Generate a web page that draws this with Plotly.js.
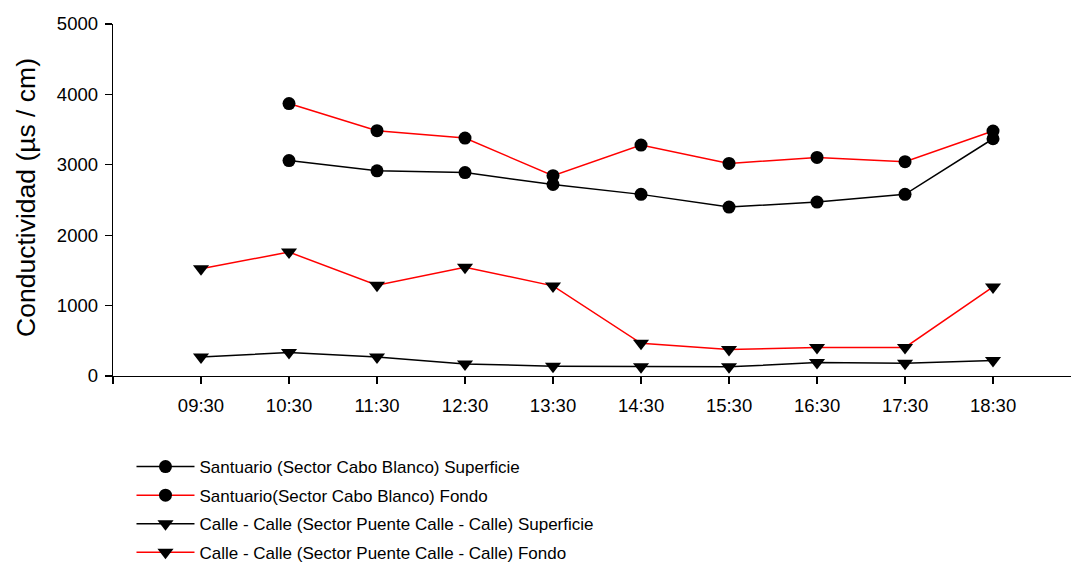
<!DOCTYPE html>
<html>
<head>
<meta charset="utf-8">
<script src="https://cdn.plot.ly/plotly-3.0.1.min.js"></script>
<style>html,body{margin:0;padding:0;background:#fff;}#chart{width:1071px;height:562px;}</style>
</head>
<body>
<div id="chart"></div>
<script>
var categories = ["09:30","10:30","11:30","12:30","13:30","14:30","15:30","16:30","17:30","18:30"];
var santuarioSuperficie = [null, 3060, 2915, 2890, 2720, 2580, 2400, 2470, 2580, 3370];
var santuarioFondo = [null, 3870, 3485, 3380, 2845, 3280, 3020, 3105, 3045, 3480];
var calleSuperficie = [270, 335, 270, 170, 140, 130, 130, 190, 180, 220];
var calleFondo = [1525, 1760, 1290, 1545, 1280, 465, 375, 405, 405, 1265];
var seriesNames = [
  "Santuario (Sector Cabo Blanco) Superficie",
  "Santuario(Sector Cabo Blanco) Fondo",
  "Calle - Calle (Sector Puente Calle - Calle) Superficie",
  "Calle - Calle (Sector Puente Calle - Calle) Fondo"
];
var yTitle = "Conductividad (µs / cm)";
var yTickValues = [0, 1000, 2000, 3000, 4000, 5000];

var xIdx = categories.map(function(c, i){ return i; });
var tickVals = [-1].concat(xIdx);
var tickText = [""].concat(categories);

function tr(name, y, color, symbol, size, grp){
  return {
    x: xIdx, y: y, name: name, type: "scatter", mode: "lines+markers",
    legendgroup: grp,
    line: {color: color, width: 1.5},
    marker: {color: "black", symbol: symbol, size: size},
    connectgaps: false, cliponaxis: false
  };
}
var data = [
  tr(seriesNames[0], santuarioSuperficie, "black", "circle", 13, "a"),
  tr(seriesNames[1], santuarioFondo, "red", "circle", 13, "b"),
  tr(seriesNames[2], calleSuperficie, "black", "triangle-down", 14, "c"),
  tr(seriesNames[3], calleFondo, "red", "triangle-down", 14, "d")
];
var layout = {
  width: 1071, height: 562,
  margin: {l: 113, r: 0, t: 24, b: 186, pad: 0, autoexpand: false},
  paper_bgcolor: "white", plot_bgcolor: "white",
  font: {family: "Liberation Sans, Arial, sans-serif", color: "black", size: 17},
  showlegend: true,
  legend: {
    x: 0.0193, xanchor: "left", y: -0.2074, yanchor: "top",
    font: {size: 17, color: "black"}, traceorder: "grouped", tracegroupgap: 3.5,
    itemwidth: 58, bgcolor: "rgba(0,0,0,0)"
  },
  xaxis: {
    type: "linear", range: [-1, 9.886], tickmode: "array", tickvals: tickVals, ticktext: tickText,
    showgrid: false, zeroline: false, showline: true, linecolor: "black", linewidth: 1.3,
    ticks: "outside", ticklen: 7, tickwidth: 1.3, tickcolor: "black",
    tickfont: {size: 18.5}, ticklabelstandoff: 5, fixedrange: true
  },
  yaxis: {
    range: [0, 5000], tickmode: "array", tickvals: yTickValues,
    showgrid: false, zeroline: false, showline: true, linecolor: "black", linewidth: 1.3,
    ticks: "outside", ticklen: 7, tickwidth: 1.3, tickcolor: "black",
    tickfont: {size: 18.5}, ticklabelstandoff: 3, fixedrange: true
  },
  annotations: [{
    text: yTitle, xref: "paper", yref: "paper", x: -0.0908, y: 0.506,
    xanchor: "center", yanchor: "middle", textangle: -90, showarrow: false,
    font: {size: 26.5, color: "black"}
  }]
};
Plotly.newPlot("chart", data, layout, {staticPlot: true});
</script>
</body>
</html>
